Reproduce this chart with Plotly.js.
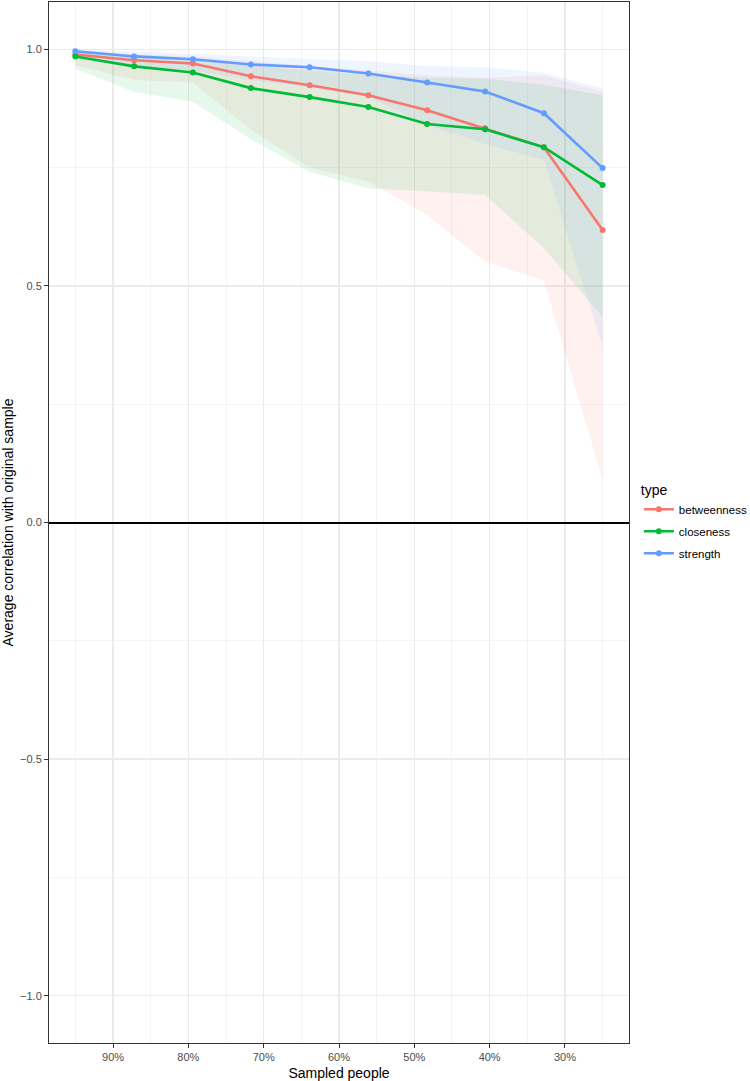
<!DOCTYPE html>
<html>
<head>
<meta charset="utf-8">
<script src="https://cdn.plot.ly/plotly-3.0.1.min.js"></script>
<style>
  html, body { margin: 0; padding: 0; background: #ffffff; }
  #chart { width: 750px; height: 1081px; }
</style>
</head>
<body>
<div id="chart"></div>
<script>
// proportion of people kept in each case-drop step
const sampled = [0.95, 0.872, 0.794, 0.717, 0.639, 0.561, 0.483, 0.406, 0.328, 0.25];

const xTicks = [0.9, 0.8, 0.7, 0.6, 0.5, 0.4, 0.3];
const xTickText = ['90%', '80%', '70%', '60%', '50%', '40%', '30%'];
const xMinor = [0.95, 0.85, 0.75, 0.65, 0.55, 0.45, 0.35, 0.25];
const yTicks = [-1, -0.5, 0, 0.5, 1];
const yMinor = [-0.75, -0.25, 0.25, 0.75];

const betweenness = [0.989, 0.977, 0.970, 0.943, 0.924, 0.903, 0.871, 0.833, 0.793, 0.618];
const betweennessLow = [0.966, 0.935, 0.930, 0.830, 0.750, 0.720, 0.650, 0.551, 0.512, 0.090];
const betweennessHigh = [0.998, 0.990, 0.985, 0.975, 0.965, 0.955, 0.945, 0.940, 0.945, 0.910];

const closeness = [0.985, 0.964, 0.951, 0.918, 0.899, 0.878, 0.842, 0.831, 0.793, 0.713];
const closenessLow = [0.959, 0.910, 0.889, 0.810, 0.741, 0.706, 0.700, 0.692, 0.580, 0.435];
const closenessHigh = [0.995, 0.985, 0.980, 0.965, 0.955, 0.945, 0.940, 0.938, 0.925, 0.903];

const strength = [0.996, 0.985, 0.979, 0.968, 0.962, 0.949, 0.930, 0.911, 0.865, 0.749];
const strengthLow = [0.985, 0.965, 0.955, 0.935, 0.920, 0.900, 0.840, 0.800, 0.766, 0.371];
const strengthHigh = [1.000, 0.995, 0.990, 0.985, 0.980, 0.975, 0.965, 0.962, 0.950, 0.917];

const seriesNames = ['betweenness', 'closeness', 'strength'];
const seriesColors = ['#F8766D', '#00BA38', '#619CFF'];
const seriesFills = ['rgba(248,118,109,0.1)', 'rgba(0,186,56,0.1)', 'rgba(97,156,255,0.1)'];
const seriesMeans = [betweenness, closeness, strength];
const seriesLows = [betweennessLow, closenessLow, strengthLow];
const seriesHighs = [betweennessHigh, closenessHigh, strengthHigh];

function ribbonTrace(i) {
  // closed polygon: upper bound left to right, lower bound back
  const xs = sampled.concat(sampled.slice().reverse());
  const ys = seriesHighs[i].concat(seriesLows[i].slice().reverse());
  return {
    type: 'scatter',
    mode: 'lines',
    x: xs,
    y: ys,
    fill: 'toself',
    fillcolor: seriesFills[i],
    line: { width: 0 },
    legendgroup: seriesNames[i],
    showlegend: false,
    hoverinfo: 'skip'
  };
}

function lineTrace(i) {
  return {
    type: 'scatter',
    mode: 'lines+markers',
    name: seriesNames[i],
    x: sampled,
    y: seriesMeans[i],
    legendgroup: seriesNames[i],
    line: { color: seriesColors[i], width: 2.6 },
    marker: { color: seriesColors[i], size: 6 }
  };
}

const data = seriesNames.map((_, i) => ribbonTrace(i))
  .concat(seriesNames.map((_, i) => lineTrace(i)));

const axisFont = { family: 'Liberation Sans, Arial, sans-serif', size: 11, color: '#4D4D4D' };
const titleFont = { family: 'Liberation Sans, Arial, sans-serif', size: 14, color: '#000000' };

const layout = {
  width: 750,
  height: 1081,
  margin: { l: 49, r: 121, t: 2, b: 38, autoexpand: false },
  paper_bgcolor: '#ffffff',
  plot_bgcolor: '#ffffff',
  font: { family: 'Liberation Sans, Arial, sans-serif' },
  showlegend: true,
  legend: {
    x: 1.017,
    xanchor: 'left',
    y: 0.5,
    yanchor: 'middle',
    title: { text: 'type', font: { size: 14, color: '#000000' } },
    font: { size: 11.5, color: '#000000' },
    tracegroupgap: 3,
    bgcolor: 'rgba(0,0,0,0)'
  },
  xaxis: {
    range: [0.985, 0.215],
    tickmode: 'array',
    tickvals: xTicks,
    ticktext: xTickText,
    tickfont: axisFont,
    ticks: 'outside',
    ticklen: 4,
    tickcolor: '#333333',
    showline: true,
    mirror: true,
    linecolor: '#333333',
    linewidth: 1,
    showgrid: true,
    gridcolor: '#EBEBEB',
    gridwidth: 1.3,
    minor: { tickmode: 'array', tickvals: xMinor, ticks: '', showgrid: true, gridcolor: '#EFEFEF', gridwidth: 0.7 },
    zeroline: false,
    title: { text: 'Sampled people', font: titleFont, standoff: 6 }
  },
  yaxis: {
    range: [-1.1, 1.1],
    tickmode: 'array',
    tickvals: yTicks,
    tickformat: '.1f',
    tickfont: axisFont,
    ticks: 'outside',
    ticklen: 4,
    tickcolor: '#333333',
    showline: true,
    mirror: true,
    linecolor: '#333333',
    linewidth: 1,
    showgrid: true,
    gridcolor: '#EBEBEB',
    gridwidth: 1.3,
    minor: { tickmode: 'array', tickvals: yMinor, ticks: '', showgrid: true, gridcolor: '#EFEFEF', gridwidth: 0.7 },
    zeroline: true,
    zerolinecolor: '#000000',
    zerolinewidth: 2,
    title: { text: 'Average correlation with original sample', font: titleFont, standoff: 6 }
  }
};

Plotly.newPlot('chart', data, layout, { displayModeBar: false, staticPlot: true });
</script>
</body>
</html>
